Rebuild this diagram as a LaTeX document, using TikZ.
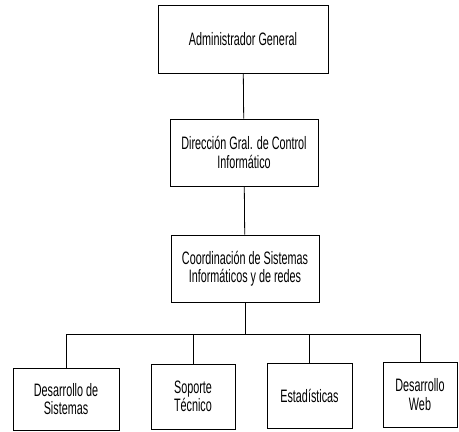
\documentclass[tikz,border=0pt]{standalone}
\usepackage{fontspec}
\usepackage{tikz}
\newfontfamily\estrecha[FakeStretch=0.6]{Liberation Sans}

\begin{document}
\begin{tikzpicture}[x=1pt,y=-1pt]
% Estilos (MODIFIABLES)
\tikzstyle{linea}=[line width=0.8pt]
\tikzstyle{caja}=[draw,line width=0.9pt,align=center,inner sep=0pt,font=\estrecha\fontsize{18}{18.5}\selectfont]
\tikzstyle{jefe}=[caja,minimum width=170,minimum height=68]
\tikzstyle{area}=[caja,minimum width=148,minimum height=67]
% Dimensiones (MODIFIABLES)
\def\NivelA{39}
\def\NivelB{152.5}
\def\NivelC{268.5}
\def\NivelBarra{334}
\useasboundingbox (0,0) rectangle (459,432);
% Nodos
\node[jefe] (Adm) at (243,\NivelA) {Administrador General};
\node[area] (Dir) at (244,\NivelB) {Dirección Gral. de Control\\Informático};
\node[area] (Coord) at (245,\NivelC) {Coordinación de Sistemas\\Informáticos y de redes};
\coordinate (Barra) at (245,\NivelBarra);
\node[caja,minimum width=106,minimum height=62] (Des) at (66,399) {Desarrollo de\\Sistemas};
\node[caja,minimum width=84,minimum height=65] (Sop) at (193,396.5) {Soporte\\Técnico};
\node[caja,minimum width=85,minimum height=65] (Est) at (309.5,395.5) {Estadísticas};
\node[caja,minimum width=74,minimum height=65] (Web) at (420,394.5) {Desarrollo\\Web};
% Arcs
\draw[linea] (Adm)--(Dir);
\draw[linea] (Dir)--(Coord);
\draw[linea] (Coord)--(Barra);
\draw[linea] (Barra)-|(Des.north);
\draw[linea] (Barra)-|(Sop.north);
\draw[linea] (Barra)-|(Est.north);
\draw[linea] (Barra)-|(Web.north);
\end{tikzpicture}
\end{document}
